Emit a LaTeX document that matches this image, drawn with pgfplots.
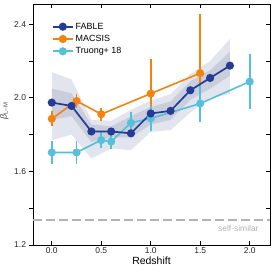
\documentclass[border=0pt]{standalone}
\usepackage{fontspec}
\setmainfont{Liberation Sans}
\usepackage{pgfplots}
\pgfplotsset{compat=1.18}
\definecolor{fable}{HTML}{253C97}
\definecolor{macsis}{HTML}{F5820D}
\definecolor{truong}{HTML}{55C0D9}
\definecolor{bandout}{HTML}{E3E5EE}
\definecolor{bandin}{HTML}{C9CDDC}
\definecolor{ssgray}{HTML}{B3B3B3}
\begin{document}
\begin{tikzpicture}
\path[use as bounding box] (-33bp,-29bp) rectangle (241bp,245bp);
\pgfplotsset{
  common/.style={
    width=237bp, height=241bp, scale only axis,
    xmin=-0.19, xmax=2.205, ymin=1.2, ymax=2.51,
    at={(0,0)}, anchor=south west,
    major tick length=4bp,
    tick style={line width=0.8bp, black},
    tick label style={font=\fontsize{8.5}{10}\selectfont, text=black!85},
    label style={font=\fontsize{10.5}{12}\selectfont},
  }
}
\begin{axis}[common,
  axis line style={line width=0.8bp},
  tick align=inside,
  xtick pos=both, ytick pos=right,
  xtick={0,0.5,1,1.5,2}, xticklabels={0.0,0.5,1.0,1.5,2.0},
  ytick={1.2,1.4,1.6,1.8,2.0,2.2,2.4}, yticklabels={},
  xlabel={Redshift},
  xlabel style={yshift=3bp},
  xticklabel style={yshift=1bp},
  legend style={at={(0.075,0.935)}, anchor=north west, draw=none, fill=none,
    font=\fontsize{9}{11}\selectfont, row sep=0.6bp, inner sep=1bp},
  legend cell align=left,
  legend image code/.code={\draw[mark repeat=2,mark phase=2] plot coordinates {(0bp,0bp) (10bp,0bp) (20bp,0bp)};},
]
\addlegendimage{fable, line width=1.7bp, mark=*, mark size=3.2bp, mark options={solid, fill=fable}}
\addlegendentry{FABLE}
\addlegendimage{macsis, line width=1.7bp, mark=*, mark size=3.2bp, mark options={solid, fill=macsis}}
\addlegendentry{MACSIS}
\addlegendimage{truong, line width=1.7bp, mark=*, mark size=3.2bp, mark options={solid, fill=truong}}
\addlegendentry{Truong+ 18}

% outer band
\addplot[fill=bandout, draw=none, forget plot] coordinates {
 (0,2.14) (0.2,2.10) (0.4,1.88) (0.6,1.875) (0.8,1.935) (1.0,1.985) (1.2,2.02) (1.4,2.13) (1.6,2.20) (1.8,2.32)
 (1.8,2.02) (1.6,2.00) (1.4,1.92) (1.2,1.825) (1.0,1.815) (0.8,1.715) (0.6,1.725) (0.4,1.67) (0.2,1.80) (0,1.77)};
% inner band
\addplot[fill=bandin, draw=none, forget plot] coordinates {
 (0,2.05) (0.2,2.025) (0.4,1.855) (0.6,1.845) (0.8,1.90) (1.0,1.95) (1.2,1.98) (1.4,2.09) (1.6,2.15) (1.8,2.25)
 (1.8,2.12) (1.6,2.05) (1.4,1.99) (1.2,1.88) (1.0,1.855) (0.8,1.785) (0.6,1.785) (0.4,1.76) (0.2,1.90) (0,1.88)};

% self-similar
\addplot[ssgray, line width=2bp, dash pattern=on 9bp off 4bp, forget plot] coordinates {(-0.19,1.3333) (2.205,1.3333)};
\node[anchor=east, text=ssgray, font=\fontsize{8.5}{10}\selectfont] at (axis cs:2.125,1.29) {self-similar};

% MACSIS
\addplot[macsis, line width=1.6bp, mark=*, mark size=3.2bp, mark options={solid, fill=macsis}, forget plot,
  error bars/.cd, y dir=both, y explicit, error mark=none, error bar style={line width=1.8bp, color=macsis, solid}]
 coordinates {
 (0,1.886) +- (0,0.04)
 (0.25,1.983) +- (0,0.04)
 (0.5,1.911) +- (0,0.035)
 (1.0,2.023) += (0,0.19) -= (0,0.10)
 (1.5,2.134) += (0,0.32) -= (0,0.10)
 };

% Truong+18
\addplot[truong, line width=1.6bp, mark=*, mark size=3.2bp, mark options={solid, fill=truong}, forget plot,
  error bars/.cd, y dir=both, y explicit, error mark=none, error bar style={line width=1.8bp, color=truong, solid}]
 coordinates {
 (0,1.703) +- (0,0.06)
 (0.25,1.703) +- (0,0.06)
 (0.5,1.770) +- (0,0.045)
 (0.6,1.762) +- (0,0.04)
 (0.8,1.864) +- (0,0.06)
 (1.0,1.888) +- (0,0.07)
 (1.5,1.969) +- (0,0.10)
 (2.0,2.088) +- (0,0.15)
 };

% FABLE
\addplot[fable, line width=1.7bp, mark=*, mark size=3.2bp, mark options={solid, fill=fable}, forget plot]
 coordinates {
 (0,1.974) (0.2,1.956) (0.4,1.817) (0.6,1.817) (0.8,1.807) (1.0,1.915) (1.2,1.929) (1.4,2.041) (1.6,2.108) (1.8,2.175)
 };
\end{axis}

\begin{axis}[common,
  axis line style={draw=none},
  tick align=outside,
  xtick=\empty,
  ytick pos=left,
  ytick={1.2,1.4,1.6,1.8,2.0,2.2,2.4}, yticklabels={1.2,,1.6,,2.0,,2.4},
  yticklabel style={xshift=0.5bp},
  ylabel={\itshape β\textsubscript{\upshape L–M}},
  ylabel style={at={(ticklabel cs:0.556)}, font=\fontsize{9}{10}\selectfont, text=black!70, yshift=-1bp},
]
\end{axis}
\end{tikzpicture}
\end{document}
